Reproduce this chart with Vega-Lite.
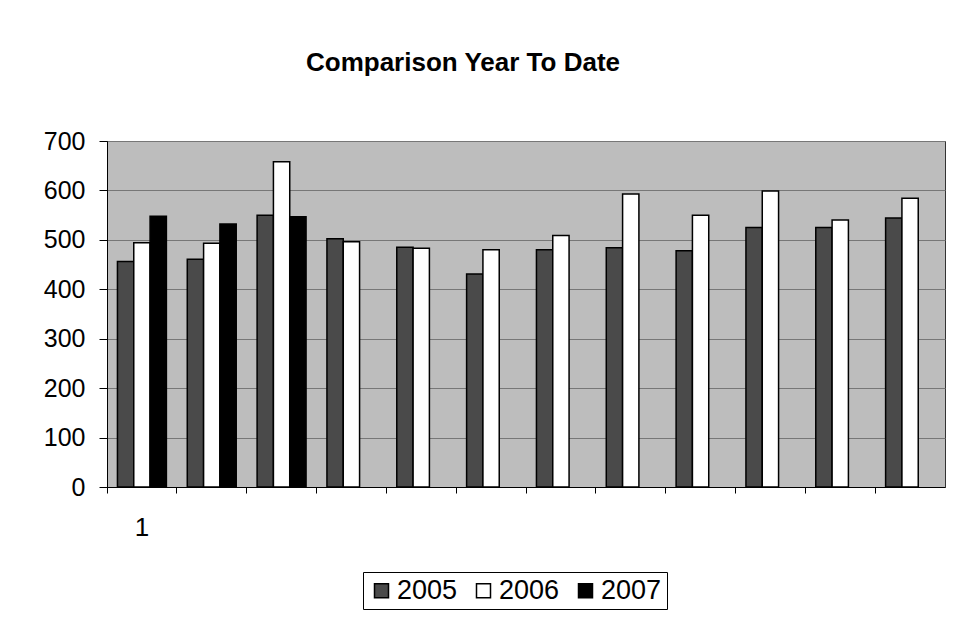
{
  "$schema": "https://vega.github.io/schema/vega-lite/v6.json",
  "autosize": {"type": "none"},
  "padding": {"left": 107, "top": 141, "right": 13, "bottom": 142},
  "width": 838,
  "height": 346,
  "background": "white",
  "title": {
    "text": "Comparison Year To Date",
    "font": "Liberation Sans",
    "fontSize": 26,
    "fontWeight": "bold",
    "color": "black",
    "anchor": "middle",
    "dx": -63,
    "offset": 53
  },
  "config": {
    "view": {"fill": "#bdbdbd", "stroke": "#333333", "strokeWidth": 1},
    "font": "Liberation Sans"
  },
  "data": {
    "values": [
      {"group": 1, "year": "2005", "value": 456},
      {"group": 1, "year": "2006", "value": 494},
      {"group": 1, "year": "2007", "value": 548},
      {"group": 2, "year": "2005", "value": 461},
      {"group": 2, "year": "2006", "value": 493},
      {"group": 2, "year": "2007", "value": 532},
      {"group": 3, "year": "2005", "value": 550},
      {"group": 3, "year": "2006", "value": 658},
      {"group": 3, "year": "2007", "value": 547},
      {"group": 4, "year": "2005", "value": 502},
      {"group": 4, "year": "2006", "value": 496},
      {"group": 5, "year": "2005", "value": 485},
      {"group": 5, "year": "2006", "value": 483},
      {"group": 6, "year": "2005", "value": 431},
      {"group": 6, "year": "2006", "value": 480},
      {"group": 7, "year": "2005", "value": 480},
      {"group": 7, "year": "2006", "value": 509},
      {"group": 8, "year": "2005", "value": 484},
      {"group": 8, "year": "2006", "value": 593},
      {"group": 9, "year": "2005", "value": 478},
      {"group": 9, "year": "2006", "value": 550},
      {"group": 10, "year": "2005", "value": 525},
      {"group": 10, "year": "2006", "value": 599},
      {"group": 11, "year": "2005", "value": 525},
      {"group": 11, "year": "2006", "value": 540},
      {"group": 12, "year": "2005", "value": 544},
      {"group": 12, "year": "2006", "value": 584}
    ]
  },
  "mark": {"type": "bar", "stroke": "black", "strokeWidth": 1.5},
  "encoding": {
    "x": {
      "field": "group",
      "type": "ordinal",
      "scale": {"paddingInner": 0, "paddingOuter": 0},
      "axis": {
        "title": null,
        "bandPosition": 0,
        "labelExpr": "datum.value == 1 ? '1' : ''",
        "labelOffset": 0,
        "labelAngle": 0,
        "labelPadding": 21,
        "labelFontSize": 26,
        "labelColor": "black",
        "labelFont": "Liberation Sans",
        "domainColor": "black",
        "tickColor": "black",
        "tickSize": 6,
        "grid": false
      }
    },
    "xOffset": {
      "field": "year",
      "type": "nominal",
      "scale": {"domain": ["2005", "2006", "2007"], "paddingInner": 0, "paddingOuter": 0.64}
    },
    "y": {
      "field": "value",
      "type": "quantitative",
      "scale": {"domain": [0, 700], "nice": false},
      "axis": {
        "title": null,
        "values": [0, 100, 200, 300, 400, 500, 600, 700],
        "labelFontSize": 25,
        "labelColor": "black",
        "labelFont": "Liberation Sans",
        "labelPadding": 14,
        "tickSize": 8,
        "tickColor": "black",
        "domainColor": "black",
        "gridColor": "#777777",
        "gridWidth": 1
      }
    },
    "color": {
      "field": "year",
      "type": "nominal",
      "scale": {"domain": ["2005", "2006", "2007"], "range": ["#4a4a4a", "#ffffff", "#000000"]},
      "legend": {
        "title": null,
        "orient": "none",
        "direction": "horizontal",
        "legendX": 256,
        "legendY": 431,
        "symbolType": "square",
        "symbolSize": 196,
        "symbolStrokeColor": "black",
        "symbolStrokeWidth": 1.5,
        "symbolOpacity": 1,
        "labelFontSize": 27,
        "labelFont": "Liberation Sans",
        "labelColor": "black",
        "labelOffset": 2,
        "columnPadding": 12,
        "strokeColor": "black",
        "fillColor": "white",
        "padding": 5
      }
    }
  }
}
